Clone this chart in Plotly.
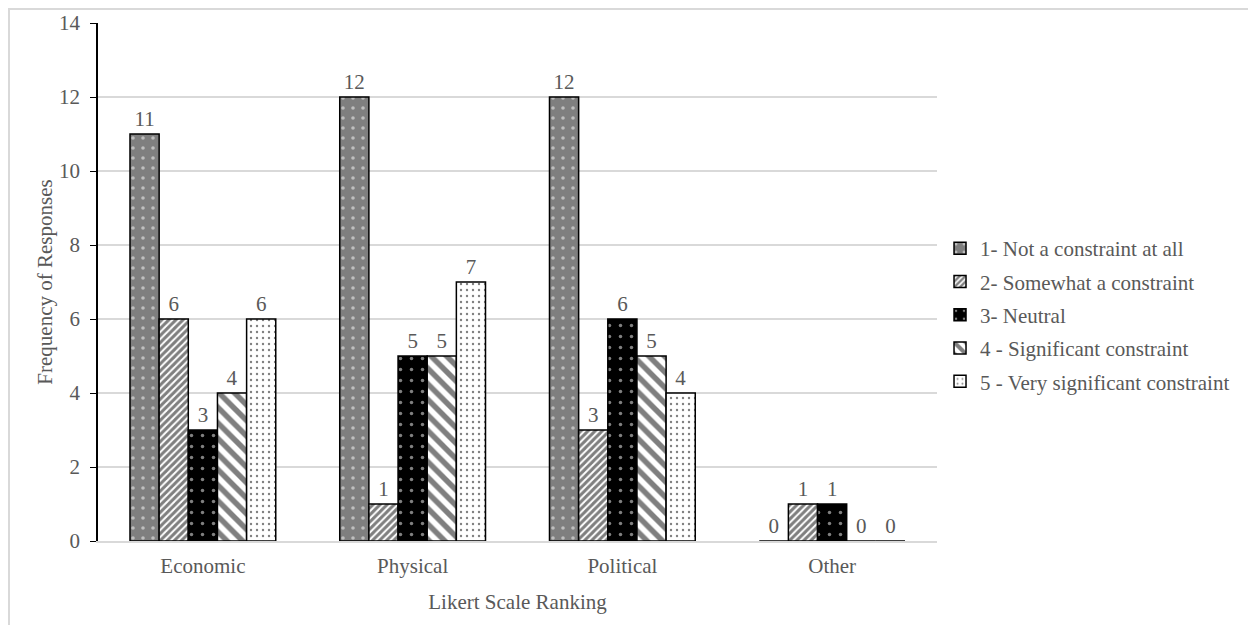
import plotly.graph_objects as go

categories = ["Economic", "Physical", "Political", "Other"]
series_names = [
    "1- Not a constraint at all",
    "2- Somewhat a constraint",
    "3- Neutral",
    "4 - Significant constraint",
    "5 - Very significant constraint",
]
s1 = [11, 12, 12, 0]
s2 = [6, 1, 3, 1]
s3 = [3, 5, 6, 1]
s4 = [4, 5, 5, 0]
s5 = [6, 7, 4, 0]
values = [s1, s2, s3, s4, s5]

patterns = [
    dict(shape=".", fgcolor="white", bgcolor="#7f7f7f", size=10, solidity=0.1, fillmode="overlay"),
    dict(shape="/", fgcolor="black", bgcolor="white", size=5, solidity=0.6, fillmode="overlay"),
    dict(shape=".", fgcolor="white", bgcolor="black", size=11, solidity=0.08, fillmode="overlay"),
    dict(shape="\\", fgcolor="black", bgcolor="white", size=11, solidity=0.5, fillmode="overlay"),
    dict(shape=".", fgcolor="black", bgcolor="white", size=6, solidity=0.12, fillmode="overlay"),
]
fills = ["#7f7f7f", "white", "black", "white", "white"]

FONT = "Liberation Serif, Times New Roman, serif"
GREY = "#595959"
FS = 21

fig = go.Figure()
for i, (name, vals, pat, fc) in enumerate(zip(series_names, values, patterns, fills)):
    fig.add_trace(go.Bar(
        x=categories, y=vals, name=name, legendgroup=f"g{i}",
        text=[str(v) for v in vals], textposition="outside",
        textfont=dict(family=FONT, size=FS, color=GREY),
        cliponaxis=False,
        marker=dict(color=fc, pattern=pat, line=dict(color="black", width=1.5)),
    ))

L, R, T, B = 90, 327, 15, 92
PW, PH = 1256 - L - R, 625 - T - B

fig.update_layout(
    width=1256, height=625,
    paper_bgcolor="white", plot_bgcolor="white",
    margin=dict(l=L, r=R, t=T, b=B, autoexpand=False),
    barmode="group", bargap=0.305, bargroupgap=0,
    font=dict(family=FONT, size=FS, color=GREY),
    showlegend=True,
    legend=dict(x=1.0036, y=(625 - B - 307) / PH, xanchor="left", yanchor="middle",
                font=dict(family=FONT, size=FS, color=GREY),
                itemwidth=30, tracegroupgap=3, bgcolor="rgba(0,0,0,0)"),
    xaxis=dict(title=dict(text="Likert Scale Ranking", font=dict(size=FS, color=GREY), standoff=17),
               showgrid=False, showline=True, linecolor="#d9d9d9", linewidth=1.5,
               ticks="", ticklabelstandoff=5, tickfont=dict(size=FS, color=GREY), automargin=False),
    yaxis=dict(title=dict(text="Frequency of Responses", font=dict(size=FS, color=GREY), standoff=1),
               range=[0, 14], dtick=2, showgrid=True, gridcolor="#d9d9d9", gridwidth=1.5,
               showline=True, linecolor="black", linewidth=1.5,
               ticks="outside", ticklen=6, tickcolor="black", ticklabelstandoff=6,
               tickfont=dict(size=FS, color=GREY), zeroline=False, automargin=False),
    shapes=[dict(type="rect", xref="paper", yref="paper",
                 x0=(1 - L) / PW, x1=(1244 - L) / PW, y0=-0.5, y1=(625 - B - 1) / PH,
                 line=dict(color="#d9d9d9", width=2), fillcolor="rgba(0,0,0,0)", layer="below")],
)

fig.write_html("out.html")
